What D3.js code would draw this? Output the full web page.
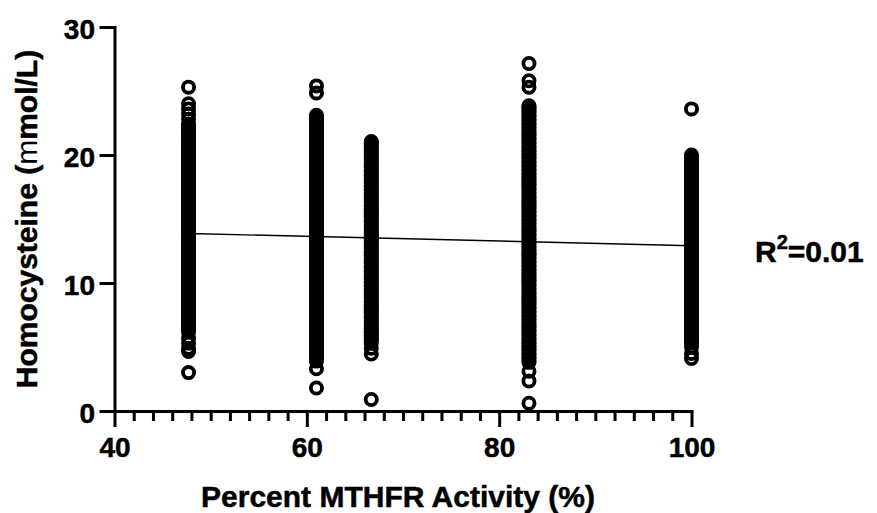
<!DOCTYPE html>
<html>
<head>
<meta charset="utf-8">
<script src="https://cdn.jsdelivr.net/npm/d3@7"></script>
<style>
  html, body { margin: 0; padding: 0; background: #fff; }
  svg { display: block; font-family: "Liberation Sans", Arial, Helvetica, sans-serif; }
  .label { fill: #000; stroke: #000; stroke-width: 0.5px; paint-order: stroke; }
</style>
</head>
<body>
<svg id="chart" width="877" height="513"></svg>
<script>
// MTHFR activity group (%) for each column of observations
const activity = [47.7, 61.0, 66.7, 83.1, 100];

// Homocysteine readings (mmol/L) observed in each activity group
const hcyAt47 = [25.3, 24.0, 23.6, 23.2, 22.8,
  22.4, 22.3, 22.1, 22.0, 21.8, 21.7, 21.5, 21.4, 21.2, 21.1, 20.9, 20.8, 20.6, 20.5, 20.3, 20.2, 20.0, 19.9, 19.7, 19.6, 19.4, 19.3, 19.1, 19.0,
  18.8, 18.7, 18.5, 18.4, 18.2, 18.1, 17.9, 17.8, 17.6, 17.5, 17.3, 17.2, 17.0, 16.9, 16.7, 16.6, 16.4, 16.3, 16.1, 16.0, 15.8, 15.7, 15.5, 15.4,
  15.2, 15.1, 14.9, 14.8, 14.6, 14.5, 14.3, 14.2, 14.0, 13.9, 13.7, 13.6, 13.4, 13.3, 13.1, 13.0, 12.8, 12.7, 12.5, 12.4, 12.2, 12.1, 11.9, 11.8,
  11.6, 11.5, 11.3, 11.2, 11.0, 10.9, 10.7, 10.6, 10.4, 10.3, 10.1, 10.0, 9.8, 9.7, 9.5, 9.4, 9.2, 9.1, 8.9, 8.8, 8.6, 8.5, 8.3, 8.2, 8.0, 7.9,
  7.7, 7.6, 7.4, 7.3, 7.1, 7.0, 6.8, 6.7, 6.5, 6.4, 6.2,
  5.7, 5.3, 4.9, 4.65, 3.0];
const hcyAt61 = [25.4, 24.85,
  23.1, 23.0, 22.8, 22.7, 22.5, 22.4, 22.2, 22.1, 21.9, 21.8, 21.6, 21.5, 21.3, 21.2, 21.0, 20.9, 20.7, 20.6, 20.4, 20.3, 20.1, 20.0, 19.8, 19.7,
  19.5, 19.4, 19.2, 19.1, 18.9, 18.8, 18.6, 18.5, 18.3, 18.2, 18.0, 17.9, 17.7, 17.6, 17.4, 17.3, 17.1, 17.0, 16.8, 16.7, 16.5, 16.4, 16.2, 16.1,
  15.9, 15.8, 15.6, 15.5, 15.3, 15.2, 15.0, 14.9, 14.7, 14.6, 14.4, 14.3, 14.1, 14.0, 13.8, 13.7, 13.5, 13.4, 13.2, 13.1, 12.9, 12.8, 12.6, 12.5,
  12.3, 12.2, 12.0, 11.9, 11.7, 11.6, 11.4, 11.3, 11.1, 11.0, 10.8, 10.7, 10.5, 10.4, 10.2, 10.1, 9.9, 9.8, 9.6, 9.5, 9.3, 9.2, 9.0, 8.9, 8.7, 8.6,
  8.4, 8.3, 8.1, 8.0, 7.8, 7.7, 7.5, 7.4, 7.2, 7.1, 6.9, 6.8, 6.6, 6.5, 6.3, 6.2, 6.0, 5.9, 5.7, 5.6, 5.4, 5.3, 5.1, 5.0, 4.8, 4.7, 4.5, 4.4, 4.2,
  4.1, 3.9,
  3.3, 1.8];
const hcyAt67 = [21.05, 20.9, 20.8, 20.6, 20.5, 20.3, 20.2, 20.0, 19.9, 19.7, 19.6, 19.4, 19.3, 19.1, 19.0, 18.8, 18.7, 18.5, 18.4, 18.2, 18.1,
  17.9, 17.8, 17.6, 17.5, 17.3, 17.2, 17.0, 16.9, 16.7, 16.6, 16.4, 16.3, 16.1, 16.0, 15.8, 15.7, 15.5, 15.4, 15.2, 15.1, 14.9, 14.8, 14.6, 14.5,
  14.3, 14.2, 14.0, 13.9, 13.7, 13.6, 13.4, 13.3, 13.1, 13.0, 12.8, 12.7, 12.5, 12.4, 12.2, 12.1, 11.9, 11.8, 11.6, 11.5, 11.3, 11.2, 11.0, 10.9,
  10.7, 10.6, 10.4, 10.3, 10.1, 10.0, 9.8, 9.7, 9.5, 9.4, 9.2, 9.1, 8.9, 8.8, 8.6, 8.5, 8.3, 8.2, 8.0, 7.9, 7.7, 7.6, 7.4, 7.3, 7.1, 7.0, 6.8, 6.7,
  6.5, 6.4, 6.2, 6.1, 5.9, 5.8, 5.6, 5.5, 5.3,
  4.9, 4.45, 0.9];
const hcyAt83 = [27.15, 25.8, 25.3,
  23.85, 23.7, 23.6, 23.4, 23.3, 23.1, 23.0, 22.8, 22.7, 22.5, 22.4, 22.2, 22.1, 21.9, 21.8, 21.6, 21.5, 21.3, 21.2, 21.0, 20.9, 20.7, 20.6, 20.4,
  20.3, 20.1, 20.0, 19.8, 19.7, 19.5, 19.4, 19.2, 19.1, 18.9, 18.8, 18.6, 18.5, 18.3, 18.2, 18.0, 17.9, 17.7, 17.6, 17.4, 17.3, 17.1, 17.0, 16.8,
  16.7, 16.5, 16.4, 16.2, 16.1, 15.9, 15.8, 15.6, 15.5, 15.3, 15.2, 15.0, 14.9, 14.7, 14.6, 14.4, 14.3, 14.1, 14.0, 13.8, 13.7, 13.5, 13.4, 13.2,
  13.1, 12.9, 12.8, 12.6, 12.5, 12.3, 12.2, 12.0, 11.9, 11.7, 11.6, 11.4, 11.3, 11.1, 11.0, 10.8, 10.7, 10.5, 10.4, 10.2, 10.1, 9.9, 9.8, 9.6, 9.5,
  9.3, 9.2, 9.0, 8.9, 8.7, 8.6, 8.4, 8.3, 8.1, 8.0, 7.8, 7.7, 7.5, 7.4, 7.2, 7.1, 6.9, 6.8, 6.6, 6.5, 6.3, 6.2, 6.0, 5.9, 5.7, 5.6, 5.4, 5.3, 5.1,
  5.0, 4.8, 4.7, 4.5, 4.4, 4.2, 4.1, 3.9, 3.8,
  3.1, 2.35, 0.6];
const hcyAt100 = [23.6,
  20.0, 19.9, 19.7, 19.6, 19.4, 19.3, 19.1, 19.0, 18.8, 18.7, 18.5, 18.4, 18.2, 18.1, 17.9, 17.8, 17.6, 17.5, 17.3, 17.2, 17.0, 16.9, 16.7, 16.6,
  16.4, 16.3, 16.1, 16.0, 15.8, 15.7, 15.5, 15.4, 15.2, 15.1, 14.9, 14.8, 14.6, 14.5, 14.3, 14.2, 14.0, 13.9, 13.7, 13.6, 13.4, 13.3, 13.1, 13.0,
  12.8, 12.7, 12.5, 12.4, 12.2, 12.1, 11.9, 11.8, 11.6, 11.5, 11.3, 11.2, 11.0, 10.9, 10.7, 10.6, 10.4, 10.3, 10.1, 10.0, 9.8, 9.7, 9.5, 9.4, 9.2,
  9.1, 8.9, 8.8, 8.6, 8.5, 8.3, 8.2, 8.0, 7.9, 7.7, 7.6, 7.4, 7.3, 7.1, 7.0, 6.8, 6.7, 6.5, 6.4, 6.2, 6.1, 5.9, 5.8, 5.6, 5.5, 5.3,
  5.0, 4.5, 4.1];

// Linear regression fit (homocysteine vs activity)
const fitSlope = -0.01835;
const fitIntercept = 14.745;
const rSquared = "0.01";

// Axis ticks
const xMajorTicks = [40, 60, 80, 100];
const xMinorTicks = [42, 44, 46, 48, 50, 52, 54, 56, 58, 62, 64, 66, 68, 70, 72, 74, 76, 78, 82, 84, 86, 88, 90, 92, 94, 96, 98];
const yTicks = [0, 10, 20, 30];

const groups = [hcyAt47, hcyAt61, hcyAt67, hcyAt83, hcyAt100];
const points = [];
groups.forEach((vals, i) => vals.forEach(v => points.push({ x: activity[i], y: v })));

const svg = d3.select("#chart");
const x = d3.scaleLinear().domain([40, 100]).range([114.5, 691.5]);
const y = d3.scaleLinear().domain([0, 30]).range([411, 27]);

// Points: open circles
svg.append("g")
  .selectAll("circle")
  .data(points)
  .join("circle")
  .attr("cx", d => x(d.x))
  .attr("cy", d => y(d.y))
  .attr("r", 5.6)
  .attr("fill", "none")
  .attr("stroke", "#000")
  .attr("stroke-width", 3.8);

// Regression line across the observed activity range
const xFit = d3.extent(activity);
svg.append("line")
  .attr("x1", x(xFit[0])).attr("y1", y(fitIntercept + fitSlope * xFit[0]))
  .attr("x2", x(xFit[1])).attr("y2", y(fitIntercept + fitSlope * xFit[1]))
  .attr("stroke", "#000")
  .attr("stroke-width", 1.4);

// Axes
function styleAxis(g) {
  g.select(".domain").attr("stroke", "#000").attr("stroke-width", 3).attr("stroke-linecap", "square");
  g.selectAll(".tick line").attr("stroke", "#000").attr("stroke-width", 3);
  g.selectAll(".tick text")
    .attr("class", "label")
    .style("font-size", "28px")
    .style("font-weight", "bold");
}

svg.append("g")
  .attr("transform", `translate(0,${y(0)})`)
  .call(d3.axisBottom(x).tickValues(xMinorTicks).tickSize(10).tickSizeOuter(0).tickFormat(""))
  .call(g => g.select(".domain").remove())
  .call(g => g.selectAll(".tick line").attr("stroke", "#000").attr("stroke-width", 3));

svg.append("g")
  .attr("transform", `translate(0,${y(0)})`)
  .call(d3.axisBottom(x).tickValues(xMajorTicks).tickSize(16).tickSizeOuter(0))
  .call(styleAxis)
  .call(g => g.selectAll(".tick text").attr("y", 46).attr("dy", "0"));

svg.append("g")
  .attr("transform", `translate(${x(40)},0)`)
  .call(d3.axisLeft(y).tickValues(yTicks).tickSize(15).tickSizeOuter(0))
  .call(styleAxis)
  .call(g => g.selectAll(".tick text").attr("x", -19.5).attr("dy", "11"));

// Axis titles
const yTitle = svg.append("text")
  .attr("class", "label")
  .attr("transform", "translate(36.5,219) rotate(-90)")
  .attr("text-anchor", "middle")
  .style("font-size", "30px")
  .style("font-weight", "bold");
yTitle.append("tspan").text("Homocysteine (");
yTitle.append("tspan").style("font-weight", "normal").style("stroke-width", "0px").text("m");
yTitle.append("tspan").text("mol/L)");

svg.append("text")
  .attr("class", "label")
  .attr("x", 398)
  .attr("y", 507)
  .attr("text-anchor", "middle")
  .style("font-size", "30px")
  .style("font-weight", "bold")
  .text("Percent MTHFR Activity (%)");

// R squared annotation
const r2 = svg.append("text")
  .attr("class", "label")
  .attr("x", 755)
  .attr("y", 262)
  .style("font-size", "30px")
  .style("font-weight", "bold");
r2.append("tspan").text("R");
r2.append("tspan").attr("dy", -13).style("font-size", "20px").text("2");
r2.append("tspan").attr("dy", 13).text("=" + rSquared);
</script>
</body>
</html>
